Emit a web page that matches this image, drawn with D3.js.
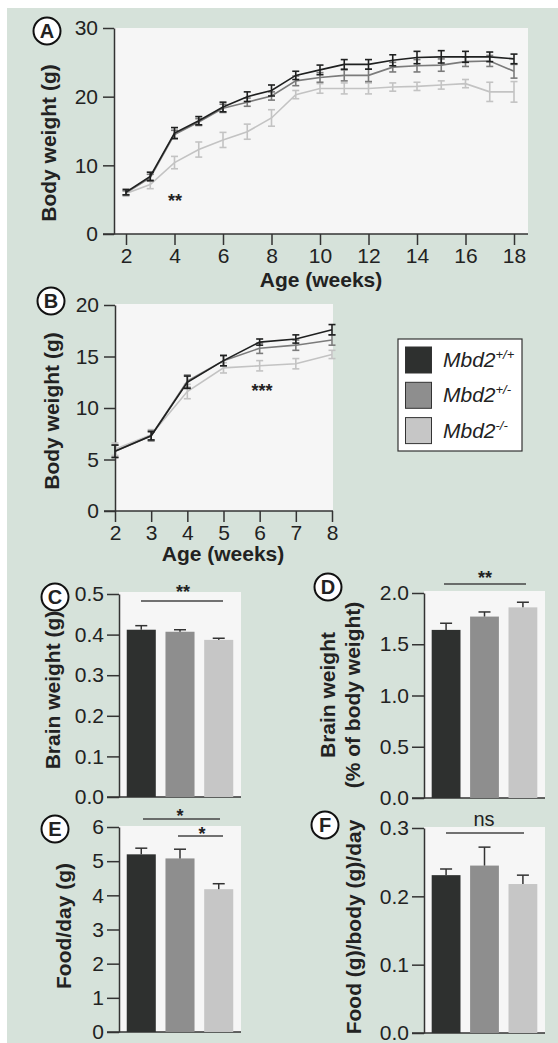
<!DOCTYPE html>
<html>
<head>
<meta charset="utf-8">
<script src="https://cdn.jsdelivr.net/npm/d3@7"></script>
<style>
body { margin: 0; background: #fff; }
text { font-family: "Liberation Sans", Arial, Helvetica, sans-serif; fill: #222; }
</style>
</head>
<body>
<div id="chart"></div>
<script>
// ---- data ----
const weeksA = [2, 3, 4, 5, 6, 7, 8, 9, 10, 11, 12, 13, 14, 15, 16, 17, 18];
const wtA  = [6.1, 8.4, 14.7, 16.5, 18.5, 20.0, 20.9, 23.1, 23.9, 24.7, 24.7, 25.3, 25.7, 25.8, 25.8, 25.8, 25.5];
const hetA = [6.0, 8.2, 14.5, 16.3, 18.3, 19.2, 20.1, 22.3, 22.8, 23.1, 23.1, 24.3, 24.5, 24.6, 25.1, 25.2, 23.7];
const koA  = [5.9, 7.2, 10.4, 12.3, 13.7, 14.9, 16.9, 20.3, 21.2, 21.2, 21.2, 21.4, 21.5, 21.7, 21.9, 20.7, 20.7];
const wtSemA  = [0.4, 0.6, 0.8, 0.6, 0.7, 0.7, 0.8, 0.6, 0.7, 0.7, 0.7, 0.8, 0.9, 0.9, 0.8, 0.7, 0.7];
const hetSemA = [0.3, 0.5, 0.6, 0.5, 0.6, 0.6, 0.6, 0.7, 0.7, 0.8, 0.9, 0.7, 0.9, 0.9, 0.7, 0.8, 1.0];
const koSemA  = [0.4, 0.6, 0.9, 1.1, 1.1, 1.1, 1.2, 0.6, 0.7, 0.8, 0.8, 0.6, 0.6, 0.6, 0.6, 1.4, 1.5];

const weeksB = [2, 3, 4, 5, 6, 7, 8];
const wtB  = [5.8, 7.3, 12.5, 14.6, 16.4, 16.7, 17.6];
const hetB = [5.8, 7.3, 12.6, 14.6, 15.8, 16.1, 16.6];
const koB  = [6.0, 7.4, 11.6, 13.9, 14.1, 14.3, 15.2];
const wtSemB  = [0.6, 0.4, 0.6, 0.5, 0.3, 0.4, 0.5];
const hetSemB = [0.6, 0.5, 0.6, 0.5, 0.5, 0.5, 0.5];
const koSemB  = [0.6, 0.5, 0.7, 0.5, 0.5, 0.5, 0.4];

const genotypes = ["+/+", "+/-", "-/-"];
const brainWeight = [0.412, 0.407, 0.387];
const brainWeightSem = [0.010, 0.005, 0.004];
const brainPct = [1.64, 1.77, 1.86];
const brainPctSem = [0.065, 0.045, 0.05];
const foodDay = [5.2, 5.08, 4.18];
const foodDaySem = [0.18, 0.27, 0.16];
const foodRatio = [0.231, 0.245, 0.218];
const foodRatioSem = [0.009, 0.027, 0.013];

const ticksAx = [2, 4, 6, 8, 10, 12, 14, 16, 18];
const ticksAy = [0, 10, 20, 30];
const ticksBx = [2, 3, 4, 5, 6, 7, 8];
const ticksBy = [0, 5, 10, 15, 20];
const ticksC = [0, 0.1, 0.2, 0.3, 0.4, 0.5];
const ticksD = [0, 0.5, 1.0, 1.5, 2.0];
const ticksE = [0, 1, 2, 3, 4, 5, 6];
const ticksF = [0, 0.1, 0.2, 0.3];

const LINE_COL = ["#1f2020", "#7b7b7b", "#c3c3c3"];
const BAR_COL = ["#2e302f", "#8e8e8e", "#c6c6c6"];
const AXIS = "#333";
const TICK_FONT = 21;

const svg = d3.select("#chart").append("svg")
  .attr("width", 558)
  .attr("height", 1043);

svg.append("rect")
  .attr("x", 7).attr("y", 8)
  .attr("width", 551).attr("height", 1035)
  .attr("fill", "#d6e2da");

function styleAxis(g) {
  g.attr("font-size", TICK_FONT).attr("font-family", null);
  g.selectAll("line").attr("stroke", AXIS).attr("stroke-width", 1.5);
  g.selectAll("path").attr("stroke", AXIS).attr("stroke-width", 1.5);
  g.selectAll("text").attr("fill", "#222");
}

function yTitle(lines, bx, cy) {
  lines.forEach((t, i) => {
    svg.append("text")
      .attr("transform", `translate(${bx[i]},${cy}) rotate(-90)`)
      .attr("text-anchor", "middle")
      .attr("font-size", 21)
      .attr("font-weight", "bold")
      .text(t);
  });
}

function panelLabel(letter, cx, cy) {
  svg.append("circle").attr("cx", cx).attr("cy", cy).attr("r", 13.5)
    .attr("fill", "#fff").attr("stroke", "#111").attr("stroke-width", 2);
  svg.append("text").attr("x", cx).attr("y", cy + 7.2)
    .attr("text-anchor", "middle").attr("font-size", 20).attr("font-weight", "bold")
    .text(letter);
}

function stars(t, x, cy, size) {
  svg.append("text").attr("x", x).attr("y", cy + size * 0.57)
    .attr("text-anchor", "middle").attr("font-size", size).attr("font-weight", "bold")
    .text(t);
}

function sigLine(x1, x2, y) {
  svg.append("line").attr("x1", x1).attr("x2", x2).attr("y1", y).attr("y2", y)
    .attr("stroke", "#444").attr("stroke-width", 1.5);
}

// line chart with error bars
function linePanel(o) {
  const x = d3.scaleLinear().domain(o.xDomain).range(o.xRange);
  const y = d3.scaleLinear().domain(o.yDomain).range(o.yRange);

  svg.append("rect")
    .attr("x", o.plot[0]).attr("y", o.plot[1])
    .attr("width", o.plot[2] - o.plot[0]).attr("height", o.plot[3] - o.plot[1])
    .attr("fill", "#f6f6f6");

  const ya = svg.append("g").attr("transform", `translate(${o.plot[0]},0)`)
    .call(d3.axisLeft(y).tickValues(o.yTicks).tickSize(11).tickSizeOuter(0).tickPadding(5)
      .tickFormat(d3.format("d")));
  styleAxis(ya);

  const xa = svg.append("g").attr("transform", `translate(0,${o.plot[3]})`)
    .call(d3.axisBottom(x).tickValues(o.xTicks).tickSize(11).tickSizeOuter(0).tickPadding(3)
      .tickFormat(d3.format("d")));
  xa.select(".domain").remove();
  styleAxis(xa);
  svg.append("line")
    .attr("x1", o.plot[0] - 11).attr("x2", o.plot[2])
    .attr("y1", o.plot[3]).attr("y2", o.plot[3])
    .attr("stroke", AXIS).attr("stroke-width", 1.5);

  const line = d3.line().x(d => x(d.w)).y(d => y(d.m));
  // draw light series first so dark sits on top
  [2, 1, 0].forEach(k => {
    const data = o.weeks.map((w, i) => ({ w, m: o.means[k][i], s: o.sems[k][i] }));
    const g = svg.append("g").attr("stroke", LINE_COL[k]).attr("stroke-width", 1.6).attr("fill", "none");
    g.append("path").attr("d", line(data));
    const eb = g.selectAll(".eb").data(data).enter().append("g");
    eb.append("line").attr("x1", d => x(d.w)).attr("x2", d => x(d.w))
      .attr("y1", d => y(d.m - d.s)).attr("y2", d => y(d.m + d.s));
    eb.append("line").attr("x1", d => x(d.w) - 3.5).attr("x2", d => x(d.w) + 3.5)
      .attr("y1", d => y(d.m + d.s)).attr("y2", d => y(d.m + d.s));
    eb.append("line").attr("x1", d => x(d.w) - 3.5).attr("x2", d => x(d.w) + 3.5)
      .attr("y1", d => y(d.m - d.s)).attr("y2", d => y(d.m - d.s));
  });

  svg.append("text")
    .attr("x", o.titleX).attr("y", o.titleY)
    .attr("text-anchor", "middle").attr("font-size", 21).attr("font-weight", "bold")
    .text("Age (weeks)");
}

// bar chart with upper error whisker
function barPanel(o) {
  const x = d3.scaleBand().domain(genotypes).range([o.plot[0], o.plot[2]])
    .paddingInner(0.25).paddingOuter(0.2);
  const y = d3.scaleLinear().domain(o.yDomain).range(o.yRange);

  svg.append("rect")
    .attr("x", o.plot[0]).attr("y", o.plot[1])
    .attr("width", o.plot[2] - o.plot[0]).attr("height", o.yRange[0] - o.plot[1])
    .attr("fill", "#f6f6f6");

  const ya = svg.append("g").attr("transform", `translate(${o.plot[0]},0)`)
    .call(d3.axisLeft(y).tickValues(o.yTicks).tickSize(12).tickSizeOuter(0).tickPadding(3)
      .tickFormat(o.fmt));
  styleAxis(ya);

  svg.append("line")
    .attr("x1", o.plot[0] - 12).attr("x2", o.plot[2])
    .attr("y1", o.yRange[0]).attr("y2", o.yRange[0])
    .attr("stroke", AXIS).attr("stroke-width", 1.5);

  const data = genotypes.map((g, i) => ({ g, m: o.means[i], s: o.sems[i], i }));
  svg.selectAll(null).data(data).enter().append("rect")
    .attr("x", d => x(d.g)).attr("width", x.bandwidth())
    .attr("y", d => y(d.m)).attr("height", d => y(0) - y(d.m))
    .attr("fill", d => BAR_COL[d.i]);

  const eb = svg.append("g").attr("stroke", AXIS).attr("stroke-width", 1.5);
  eb.selectAll(null).data(data).enter().append("line")
    .attr("x1", d => x(d.g) + x.bandwidth() / 2).attr("x2", d => x(d.g) + x.bandwidth() / 2)
    .attr("y1", d => y(d.m)).attr("y2", d => y(d.m + d.s));
  eb.selectAll(null).data(data).enter().append("line")
    .attr("x1", d => x(d.g) + x.bandwidth() / 2 - 6).attr("x2", d => x(d.g) + x.bandwidth() / 2 + 6)
    .attr("y1", d => y(d.m + d.s)).attr("y2", d => y(d.m + d.s));
}

// ---- A ----
linePanel({
  plot: [114, 28, 528, 234],
  xDomain: [2, 18], xRange: [126, 514],
  yDomain: [0, 30], yRange: [234, 28],
  xTicks: ticksAx, yTicks: ticksAy,
  weeks: weeksA, means: [wtA, hetA, koA], sems: [wtSemA, hetSemA, koSemA],
  titleX: 321, titleY: 287
});
yTitle(["Body weight (g)"], [56], 143);
panelLabel("A", 47, 31);
stars("**", 175, 197, 18);

// ---- B ----
linePanel({
  plot: [115, 304, 333, 511],
  xDomain: [2, 8], xRange: [115, 332],
  yDomain: [0, 20], yRange: [511, 305],
  xTicks: ticksBx, yTicks: ticksBy,
  weeks: weeksB, means: [wtB, hetB, koB], sems: [wtSemB, hetSemB, koSemB],
  titleX: 223, titleY: 561
});
yTitle(["Body weight (g)"], [59], 411);
panelLabel("B", 51, 301);
stars("***", 262, 387, 18);

// ---- legend ----
const leg = svg.append("g");
leg.append("rect").attr("x", 398).attr("y", 339).attr("width", 124).attr("height", 112)
  .attr("fill", "#fff").attr("stroke", "#333").attr("stroke-width", 1.2);
genotypes.forEach((g, i) => {
  const yy = 347 + i * 35.3;
  leg.append("rect").attr("x", 405.5).attr("y", yy).attr("width", 26).attr("height", 26)
    .attr("fill", BAR_COL[i]).attr("stroke", "#333").attr("stroke-width", 1);
  const t = leg.append("text").attr("x", 443).attr("y", yy + 20)
    .attr("font-size", 21).attr("font-style", "italic");
  t.append("tspan").text("Mbd2");
  t.append("tspan").attr("font-size", 13).attr("dy", -8).text(g);
});

// ---- C ----
barPanel({
  plot: [119, 592, 241], yDomain: [0, 0.5], yRange: [797, 594],
  yTicks: ticksC, fmt: d3.format(".1f"),
  means: brainWeight, sems: brainWeightSem
});
yTitle(["Brain weight (g)"], [60], 690);
panelLabel("C", 55, 597);
sigLine(141, 223, 601);
stars("**", 183, 588, 18);

// ---- D ----
barPanel({
  plot: [424, 591, 545], yDomain: [0, 2], yRange: [798, 593],
  yTicks: ticksD, fmt: d3.format(".1f"),
  means: brainPct, sems: brainPctSem
});
yTitle(["Brain weight", "(% of body weight)"], [335, 360], 695);
panelLabel("D", 328, 587);
sigLine(444, 526, 584);
stars("**", 485, 574, 18);

// ---- E ----
barPanel({
  plot: [119, 826, 241], yDomain: [0, 6], yRange: [1032, 827],
  yTicks: ticksE, fmt: d3.format("d"),
  means: foodDay, sems: foodDaySem
});
yTitle(["Food/day (g)"], [71], 926);
panelLabel("E", 55, 829);
sigLine(143, 220, 819);
stars("*", 180, 812, 18);
sigLine(178, 223, 836);
stars("*", 202, 830, 18);

// ---- F ----
barPanel({
  plot: [424, 827, 545], yDomain: [0, 0.3], yRange: [1033, 828],
  yTicks: ticksF, fmt: d3.format(".1f"),
  means: foodRatio, sems: foodRatioSem
});
yTitle(["Food (g)/body (g)/day"], [361], 927);
panelLabel("F", 325, 825);
sigLine(446, 524, 833);
svg.append("text").attr("x", 484).attr("y", 826)
  .attr("text-anchor", "middle").attr("font-size", 20).text("ns");
</script>
</body>
</html>
